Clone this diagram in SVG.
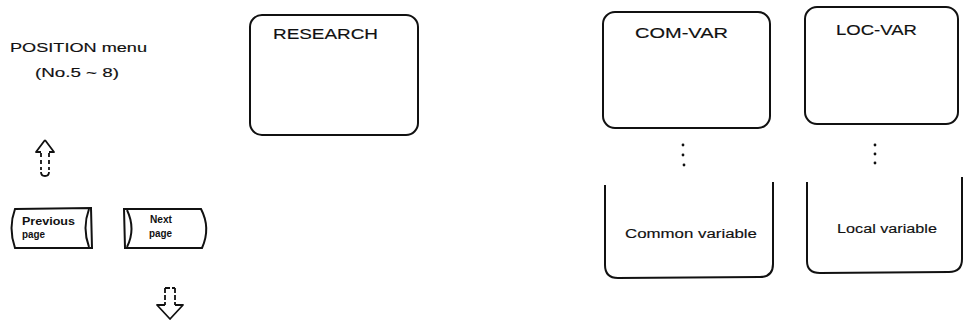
<svg xmlns="http://www.w3.org/2000/svg" width="964" height="327" viewBox="0 0 964 327">
<style>
.box{fill:none;stroke:#111;stroke-width:2}
.t{font-family:"Liberation Sans",Arial,sans-serif;fill:#111;stroke:#111;stroke-width:0.15}
.big{font-size:14.5px}
.mid{font-size:12.5px}
.sm{font-size:10.5px;font-weight:bold;stroke-width:0}
.dot{fill:#111}
.arr{fill:none;stroke:#111;stroke-width:1.8;stroke-linejoin:round}
</style>
<rect width="964" height="327" fill="#fff"/>
<g id="position-menu">
<text class="t mid" x="10" y="52" textLength="137" lengthAdjust="spacingAndGlyphs">POSITION menu</text>
<text class="t mid" x="35" y="77" textLength="84" lengthAdjust="spacingAndGlyphs">(No.5 ~ 8)</text>
</g>
<g id="prev-page">
<path class="box" d="M15,209 L91,208 L92,248 L15,248 Q8,228 15,209 Z" stroke-width="1.8"/>
<path class="box" d="M89,209 Q82,228 89,247" stroke-width="1.5"/>
<text class="t sm" x="22" y="225" textLength="53" lengthAdjust="spacingAndGlyphs">Previous</text>
<text class="t sm" x="22" y="238" textLength="23" lengthAdjust="spacingAndGlyphs">page</text>
</g>
<g id="next-page">
<path class="box" d="M124,209 L201,209 Q211,228 202,248 L125,248 Z" stroke-width="1.8"/>
<path class="box" d="M127,210 Q136,229 127,247" stroke-width="1.5"/>
<text class="t sm" x="150" y="223" textLength="22" lengthAdjust="spacingAndGlyphs">Next</text>
<text class="t sm" x="149" y="237" textLength="23" lengthAdjust="spacingAndGlyphs">page</text>
</g>
<g id="research">
<rect class="box" x="250" y="15" width="168" height="120" rx="12"/>
<text class="t big" x="273" y="39" textLength="105" lengthAdjust="spacingAndGlyphs">RESEARCH</text>
</g>
<g id="com-var">
<rect class="box" x="603" y="12" width="167" height="116" rx="12"/>
<text class="t big" x="635" y="38" textLength="93" lengthAdjust="spacingAndGlyphs">COM-VAR</text>
</g>
<g id="loc-var">
<rect class="box" x="805" y="7" width="153" height="117" rx="12"/>
<text class="t big" x="836" y="35" textLength="81" lengthAdjust="spacingAndGlyphs">LOC-VAR</text>
</g>
<g id="common-variable">
<path class="box" d="M605,185 L605,265 Q605,278 618,278 L760,277 Q773,277 773,264 L773,182"/>
<text class="t mid" x="625" y="238" textLength="132" lengthAdjust="spacingAndGlyphs">Common variable</text>
</g>
<g id="local-variable">
<path class="box" d="M807,182 L807,261 Q807,273 820,273 L949,272 Q962,272 962,259 L962,177"/>
<text class="t mid" x="837" y="233" textLength="100" lengthAdjust="spacingAndGlyphs">Local variable</text>
</g>
<g id="connectors">
<path class="arr" d="M45,140 L54,152 L49,152 M41,152 L36,152 L45,140"/>
<path class="arr" d="M41,153 L41,170 M49,153 L49,170" stroke-dasharray="4,3"/>
<path class="arr" d="M41,172 Q41,176 45,176 Q49,176 49,172"/>
<path class="arr" d="M165,288 L175,288 M165,288 L165,305 M175,288 L175,305" stroke-dasharray="5,2"/>
<path class="arr" d="M165,305 L157,305 L170,319 L183,305 L175,305"/>
<circle class="dot" cx="683" cy="145" r="1.4"/>
<circle class="dot" cx="683" cy="155" r="1.4"/>
<circle class="dot" cx="684" cy="165" r="1.4"/>
<circle class="dot" cx="875" cy="145" r="1.4"/>
<circle class="dot" cx="875" cy="154" r="1.4"/>
<circle class="dot" cx="875" cy="163" r="1.4"/>
</g>
</svg>
